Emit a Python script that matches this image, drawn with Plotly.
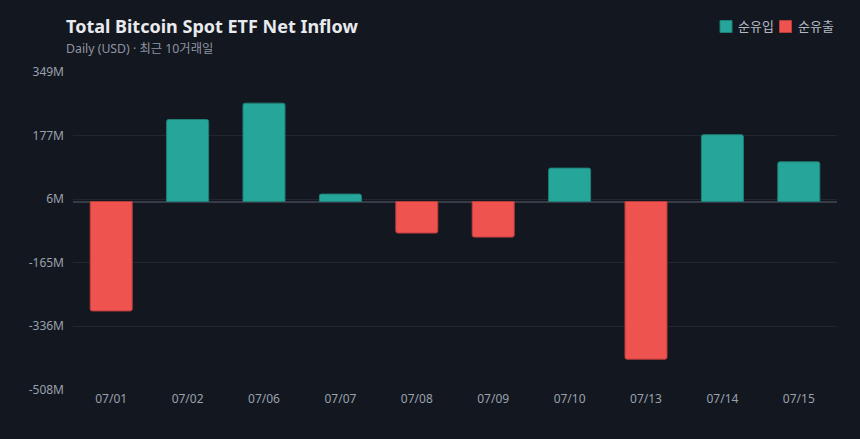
import plotly.graph_objects as go

dates = ["07/01", "07/02", "07/06", "07/07", "07/08", "07/09", "07/10", "07/13", "07/14", "07/15"]
net_flow_musd = [-295, 221, 265, 20, -85, -96, 90, -425, 180, 107]
y_tick_vals = [349, 177, 6, -165, -336, -508]
y_tick_text = ["349M", "177M", "6M", "-165M", "-336M", "-508M"]
legend_names = ["순유입", "순유출"]

BG = "#131720"
GREEN = "#26a69a"
RED = "#ef5350"
FONT = "Noto Sans, Noto Sans CJK KR, sans-serif"

inflow = [v if v >= 0 else None for v in net_flow_musd]
outflow = [v if v < 0 else None for v in net_flow_musd]

fig = go.Figure()
fig.add_trace(go.Bar(x=dates, y=inflow, name=legend_names[0], showlegend=False,
                     marker=dict(color=GREEN, line=dict(color="#1f7f76", width=1))))
fig.add_trace(go.Bar(x=dates, y=outflow, name=legend_names[1], showlegend=False,
                     marker=dict(color=RED, line=dict(color="#b83d3b", width=1))))

# custom legend (compact spacing like the reference)
L, R, T, B = 73, 837, 72, 390
W, H = R - L, B - T
def px(x):
    return (x - L) / W
def py(y):
    return (B - y) / H

legend_items = [(legend_names[0], GREEN, "#1f7f76", 720), (legend_names[1], RED, "#b83d3b", 779.5)]
shapes = []
anns = []
for name, col, lcol, x0 in legend_items:
    shapes.append(dict(type="rect", xref="paper", yref="paper",
                       x0=px(x0), x1=px(x0 + 12), y0=py(32.5), y1=py(20.5),
                       fillcolor=col, line=dict(color=lcol, width=1)))
    anns.append(dict(text=name, xref="paper", yref="paper", x=px(x0 + 16), y=py(26.5),
                     xanchor="left", yanchor="middle", showarrow=False,
                     font=dict(size=13, color="#b4bac4", family=FONT)))

anns += [
    dict(text="<b>Total Bitcoin Spot ETF Net Inflow</b>", xref="paper", yref="paper",
         x=-0.0115, y=1.0, xanchor="left", yanchor="bottom", yshift=31.5,
         showarrow=False, font=dict(size=18, color="#e8eaee", family=FONT)),
    dict(text="Daily (USD) · 최근 10거래일", xref="paper", yref="paper",
         x=-0.0115, y=1.0, xanchor="left", yanchor="bottom", yshift=13,
         showarrow=False, font=dict(size=12.3, color="#8e95a1", family=FONT)),
]

fig.update_layout(
    width=860, height=439,
    paper_bgcolor=BG, plot_bgcolor=BG,
    margin=dict(l=L, r=860 - R, t=T, b=439 - B),
    barmode="overlay", bargap=0.45, barcornerradius=2,
    font=dict(family=FONT, color="#9aa1ac", size=12),
    showlegend=False,
    xaxis=dict(type="category", range=[-0.5, 9.5], showgrid=False, showline=False,
               ticks="", tickfont=dict(size=12, color="#9aa1ac"), zeroline=False),
    yaxis=dict(range=[-508, 349], tickvals=y_tick_vals, ticktext=y_tick_text,
               showgrid=True, gridcolor="#22262f", gridwidth=1,
               zeroline=True, zerolinecolor="#363b47", zerolinewidth=2,
               tickfont=dict(size=12, color="#9aa1ac"), ticks="", ticklabelstandoff=8),
    shapes=shapes,
    annotations=anns,
)

fig.write_html("out.html")
